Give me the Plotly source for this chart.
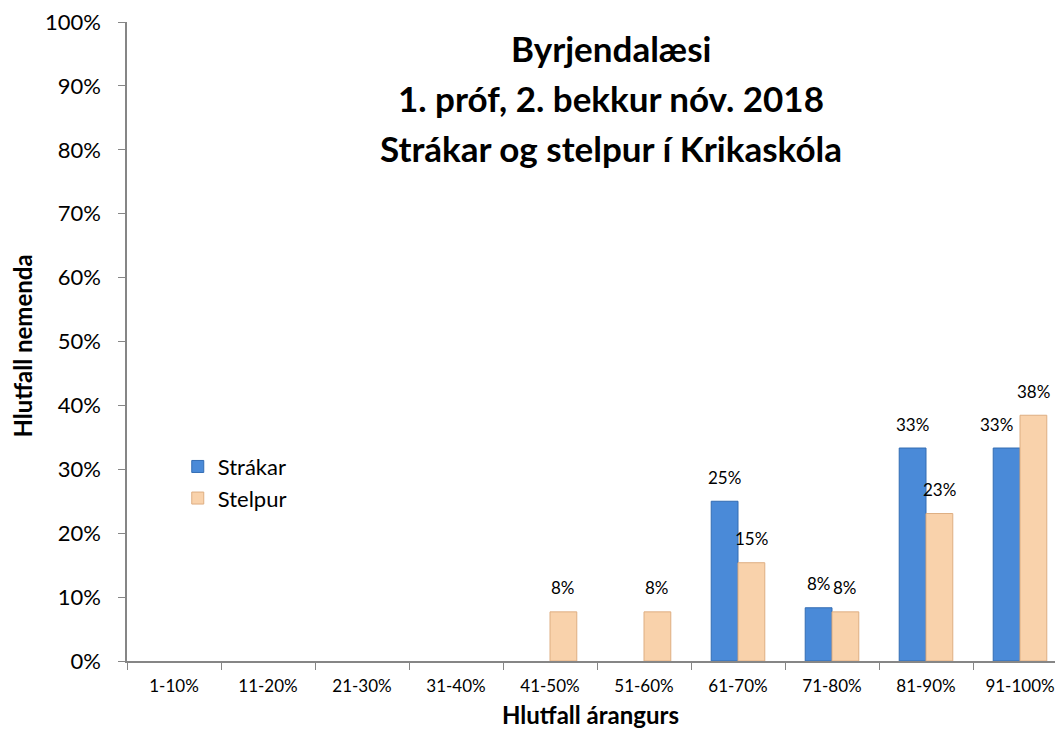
import plotly.graph_objects as go

categories = ["1-10%", "11-20%", "21-30%", "31-40%", "41-50%", "51-60%",
              "61-70%", "71-80%", "81-90%", "91-100%"]
strakar = [None, None, None, None, None, None, 0.25, 0.0833, 0.3333, 0.3333]
stelpur = [None, None, None, None, 0.0769, 0.0769, 0.1538, 0.0769, 0.2308, 0.3846]
title_lines = ["Byrjendalæsi", "1. próf, 2. bekkur nóv. 2018", "Strákar og stelpur í Krikaskóla"]

font = "Lato"
PLOT_W, PLOT_H = 940, 639
fig = go.Figure()
fig.add_bar(x=categories, y=strakar, name="Strákar",
            marker=dict(color="#4a8ad8", line=dict(color="#336cb3", width=1)))
fig.add_bar(x=categories, y=stelpur, name="Stelpur",
            marker=dict(color="#f9d2ab", line=dict(color="#deae82", width=1)))

# data labels above bars (placed via the axes' own scales)
half = 13.4
for i, cat in enumerate(categories):
    a, b = strakar[i], stelpur[i]
    if a is not None:
        nudge = -10 if (b is not None and b > a and b - a < 0.08) else 0
        fig.add_annotation(x=cat, y=a, text=f"{a:.0%}", showarrow=False,
                           xshift=-half + nudge, yshift=24, yanchor="middle",
                           font=dict(size=17, family=font, color="#000000"))
    if b is not None:
        fig.add_annotation(x=cat, y=b, text=f"{b:.0%}", showarrow=False,
                           xshift=half, yshift=24, yanchor="middle",
                           font=dict(size=17, family=font, color="#000000"))

# title lines (inside plot area)
for i, line in enumerate(title_lines):
    fig.add_annotation(text="<b>" + line + "</b>", xref="paper", yref="paper",
                       x=0.515, y=1 - (26 + 50 * i) / PLOT_H, xanchor="center", yanchor="middle",
                       showarrow=False, font=dict(size=35, family=font, color="#000000"))

# axis titles
fig.add_annotation(text="<b>Hlutfall árangurs</b>", xref="paper", yref="paper",
                   x=0.4926, y=-53 / PLOT_H, xanchor="center", yanchor="middle",
                   showarrow=False, font=dict(size=24, family=font, color="#000000"))
fig.add_annotation(text="<b>Hlutfall nemenda</b>", xref="paper", yref="paper",
                   x=-104 / PLOT_W, y=0.492, xanchor="center", yanchor="middle", textangle=-90,
                   showarrow=False, font=dict(size=24, family=font, color="#000000"))

fig.update_layout(
    width=1063, height=738,
    margin=dict(l=119, r=4, t=14, b=85),
    paper_bgcolor="white", plot_bgcolor="white",
    font=dict(family=font, color="#000000"),
    barmode="group", bargap=0.43, bargroupgap=0.0,
    legend=dict(x=0.054, y=0.337, xanchor="left", yanchor="top",
                font=dict(size=22), bgcolor="rgba(0,0,0,0)",
                itemwidth=30, tracegroupgap=0),
    showlegend=True,
)
fig.update_xaxes(type="category", range=[-0.5, 9.5], showline=True,
                 linecolor="#868686", linewidth=1.5, ticks="outside",
                 tickson="boundaries", ticklen=7, tickcolor="#868686",
                 tickfont=dict(size=17), showgrid=False, automargin=False,
                 ticklabelstandoff=9)
fig.update_yaxes(range=[0, 1], dtick=0.1, tickformat=".0%", showline=True,
                 linecolor="#868686", linewidth=1.5, ticks="outside", ticklen=7,
                 tickcolor="#868686", tickfont=dict(size=22), showgrid=False,
                 zeroline=False, automargin=False, ticklabelstandoff=13,
                 ticklabeloverflow="allow")

fig.write_html("out.html")
